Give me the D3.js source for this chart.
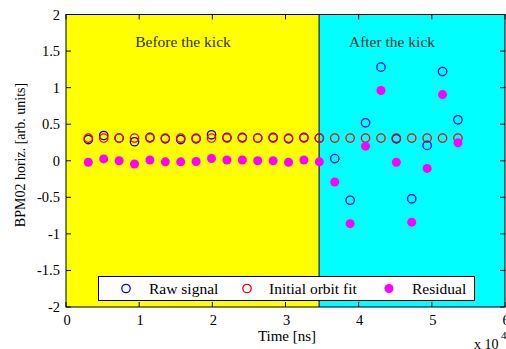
<!DOCTYPE html>
<html>
  <head>
    <meta charset="UTF-8" />
    <style>
      body { margin: 0; background: #fff; }
      svg { display: block; }
      svg text { font-family: "Liberation Serif", "DejaVu Serif", serif; }
    </style>
  </head>
  <body>
    <svg></svg>

    <script src="https://d3js.org/d3.v7.min.js"></script>

    <script>
      let width = 506,
        height = 349

      // time of each turn [ns]
      let time = [3050, 5155, 7260, 9365, 11470, 13575, 15680, 17785, 19890, 21995, 24100, 26205, 28310,
        30415, 32520, 34625, 36730, 38835, 40940, 43045, 45150, 47255, 49360, 51465, 53570]
      let rawSignal = [0.29, 0.345, 0.31, 0.26, 0.32, 0.3, 0.29, 0.3, 0.355, 0.32, 0.32, 0.31, 0.32,
        0.3, 0.32, 0.31, 0.03, -0.54, 0.52, 1.28, 0.3, -0.52, 0.21, 1.22, 0.56]
      let orbitFit = [0.31, 0.31, 0.31, 0.31, 0.31, 0.31, 0.31, 0.31, 0.31, 0.31, 0.31, 0.31, 0.31,
        0.31, 0.31, 0.31, 0.31, 0.31, 0.31, 0.31, 0.31, 0.31, 0.31, 0.31, 0.31]
      let residual = [-0.02, 0.025, 0, -0.045, 0.01, -0.015, -0.015, -0.01, 0.03, 0.01, 0.01, 0, 0,
        -0.02, 0.01, -0.015, -0.29, -0.86, 0.2, 0.96, -0.02, -0.84, -0.105, 0.905, 0.245]
      let kickTime = 34600
      let xTicks = [0, 1, 2, 3, 4, 5, 6]
      let yTicks = [-2, -1.5, -1, -0.5, 0, 0.5, 1, 1.5, 2]
      let legendLabels = ['Raw signal', 'Initial orbit fit', 'Residual']

      let svg = d3.select('svg').attr('width', width).attr('height', height)
        .attr('font-family', '"Liberation Serif", "DejaVu Serif", serif')

      let x = d3.scaleLinear().domain([0, 60000]).range([66, 505])
      let y = d3.scaleLinear().domain([-2, 2]).range([307, 14.5])

      // background regions
      svg.append('rect')
        .attr('x', x(0)).attr('y', y(2))
        .attr('width', x(kickTime) - x(0)).attr('height', y(-2) - y(2))
        .attr('fill', '#ffff00')
      svg.append('rect')
        .attr('x', x(kickTime)).attr('y', y(2))
        .attr('width', x(60000) - x(kickTime)).attr('height', y(-2) - y(2))
        .attr('fill', '#00ffff')
      svg.append('line')
        .attr('x1', x(kickTime)).attr('x2', x(kickTime))
        .attr('y1', y(2)).attr('y2', y(-2))
        .attr('stroke', '#4a4a4a').attr('stroke-width', 1.6)

      svg.append('text').attr('x', 183).attr('y', 47)
        .attr('text-anchor', 'middle').attr('font-size', 15.5).attr('fill', '#333')
        .text('Before the kick')
      svg.append('text').attr('x', 392).attr('y', 47)
        .attr('text-anchor', 'middle').attr('font-size', 15.5).attr('fill', '#333')
        .text('After the kick')

      // markers
      svg.append('g').selectAll('circle').data(time).enter().append('circle')
        .attr('cx', (d) => x(d)).attr('cy', (d, i) => y(rawSignal[i]))
        .attr('r', 4.2).attr('fill', 'none').attr('stroke', '#0000ff').attr('stroke-width', 1.3)
      svg.append('g').selectAll('circle').data(time).enter().append('circle')
        .attr('cx', (d) => x(d)).attr('cy', (d, i) => y(orbitFit[i]))
        .attr('r', 4.2).attr('fill', 'none').attr('stroke', '#ff0000').attr('stroke-width', 1.3)
      svg.append('g').selectAll('circle').data(time).enter().append('circle')
        .attr('cx', (d) => x(d)).attr('cy', (d, i) => y(residual[i]))
        .attr('r', 4.5).attr('fill', '#ff00ff')

      // axes box with inward ticks
      let axisG = svg.append('g').attr('stroke', '#000').attr('stroke-width', 1)
      axisG.append('rect')
        .attr('x', x(0)).attr('y', y(2))
        .attr('width', x(60000) - x(0)).attr('height', y(-2) - y(2))
        .attr('fill', 'none')
      xTicks.forEach((t) => {
        axisG.append('line').attr('x1', x(t * 1e4)).attr('x2', x(t * 1e4))
          .attr('y1', y(-2)).attr('y2', y(-2) - 5)
        axisG.append('line').attr('x1', x(t * 1e4)).attr('x2', x(t * 1e4))
          .attr('y1', y(2)).attr('y2', y(2) + 5)
      })
      yTicks.forEach((t) => {
        axisG.append('line').attr('x1', x(0)).attr('x2', x(0) + 5)
          .attr('y1', y(t)).attr('y2', y(t))
        axisG.append('line').attr('x1', x(60000)).attr('x2', x(60000) - 5)
          .attr('y1', y(t)).attr('y2', y(t))
      })

      svg.append('g').selectAll('text').data(xTicks).enter().append('text')
        .attr('x', (d) => x(d * 1e4) + 1).attr('y', 325)
        .attr('text-anchor', 'middle').attr('font-size', 14.5)
        .text((d) => d)
      svg.append('g').selectAll('text').data(yTicks).enter().append('text')
        .attr('x', 60).attr('y', (d) => y(d) + 5)
        .attr('text-anchor', 'end').attr('font-size', 14.5)
        .text((d) => d)

      svg.append('text').attr('x', 287).attr('y', 341)
        .attr('text-anchor', 'middle').attr('font-size', 15)
        .text('Time [ns]')
      svg.append('text').attr('transform', 'translate(25,155) rotate(-90)')
        .attr('text-anchor', 'middle').attr('font-size', 14)
        .text('BPM02 horiz. [arb. units]')
      svg.append('text').attr('x', 474).attr('y', 349).attr('font-size', 14)
        .text('x 10')
      svg.append('text').attr('x', 501).attr('y', 339).attr('font-size', 11)
        .text('4')

      // legend
      let legend = svg.append('g')
      legend.append('rect').attr('x', 98.5).attr('y', 276.5).attr('width', 376).attr('height', 24)
        .attr('fill', '#fff').attr('stroke', '#000').attr('stroke-width', 1)
      let legendX = [126, 247, 389]
      let legendTextX = [149, 269, 412]
      legendLabels.forEach((l, i) => {
        if (i == 2) {
          legend.append('circle').attr('cx', legendX[i]).attr('cy', 288.5).attr('r', 4.5).attr('fill', '#ff00ff')
        } else {
          legend.append('circle').attr('cx', legendX[i]).attr('cy', 288.5).attr('r', 4.2)
            .attr('fill', 'none').attr('stroke', i == 0 ? '#0000ff' : '#ff0000').attr('stroke-width', 1.3)
        }
        legend.append('text').attr('x', legendTextX[i]).attr('y', 294).attr('font-size', 15.5)
          .text(l)
      })
    </script>
  </body>
</html>
